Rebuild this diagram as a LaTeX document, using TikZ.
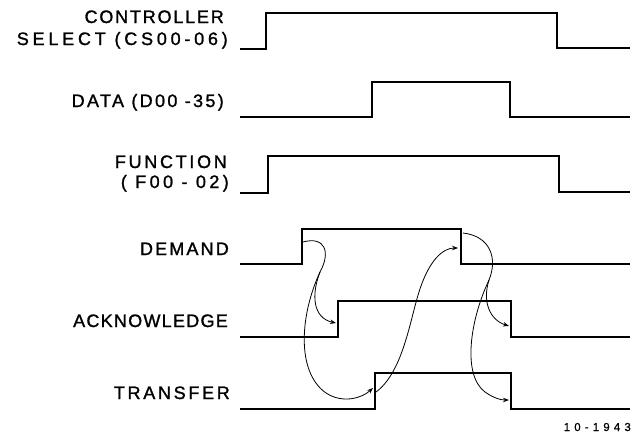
\documentclass[tikz,border=0pt]{standalone}
\usepackage{fontspec}
\newfontfamily\lblfont[FakeBold=1.3]{Liberation Sans}
\newfontfamily\tagfont[LetterSpace=36,FakeBold=0.8]{Liberation Sans}
\usetikzlibrary{arrows.meta}
\begin{document}
\begin{tikzpicture}[x=1pt,y=-1pt,
  wave/.style={line width=2.6pt,line join=miter,line cap=butt},
  cause/.style={line width=0.8pt,-{Stealth[length=6pt,width=4.5pt]}},
  causeplain/.style={line width=0.8pt},
  lbl/.style={anchor=base east,inner sep=0pt,font=\lblfont\fontsize{18}{18}\selectfont\addfontfeature{LetterSpace=#1}},
  tag/.style={anchor=base east,inner sep=0pt,font=\tagfont\fontsize{11.5}{11.5}\selectfont}]
\useasboundingbox (0,0) rectangle (634,442);
% labels
\node[lbl=10] (lcs1) at (224,23) {CONTROLLER};
\node[lbl=21] (lcs2) at (228,45) {SELECT (CS00-06)};
\node[lbl=13] (ldata) at (224,107) {DATA (D00 -35)};
\node[lbl=15] (lfn1) at (227,168) {FUNCTION};
\node[lbl=19] (lfn2) at (229,188) {( F00 - 02)};
\node[lbl=12] (ldem) at (229,255) {DEMAND};
\node[lbl=7] (lack) at (228,327) {ACKNOWLEDGE};
\node[lbl=15] (ltr) at (230,399) {TRANSFER};
\node[tag] (lnum) at (631,431) {10-1943};
% waveforms
\draw[wave] (240,49) -- (266,49) -- (266,13) -- (557,13) -- (557,48) -- (630,48);
\draw[wave] (240,117) -- (372,117) -- (372,82) -- (510,82) -- (510,117) -- (630,117);
\draw[wave] (240,193) -- (268,193) -- (268,156) -- (559,156) -- (559,192) -- (630,192);
\draw[wave] (240,264) -- (302,264) -- (302,229) -- (461,229) -- (461,264) -- (630,264);
\draw[wave] (240,337) -- (338,337) -- (338,301) -- (511,301) -- (511,337) -- (630,337);
\draw[wave] (240,409) -- (375,409) -- (375,373) -- (511,373) -- (511,409) -- (630,409);
% edge points
\coordinate (demup) at (303,242);
\coordinate (demsplit) at (320,272);
\coordinate (ackup) at (336,323);
\coordinate (trup) at (373,388);
\coordinate (trupout) at (376,392);
\coordinate (demdn) at (458,248);
\coordinate (demdnout) at (463,233);
\coordinate (dnsplit) at (489,280);
\coordinate (ackdn) at (509,326);
\coordinate (trdn) at (509,400);
% causal connectors
\draw[causeplain] (demup) .. controls (325,236) and (331,252) .. (demsplit);
\draw[cause] (demsplit) .. controls (311,295) and (313,318) .. (ackup);
\draw[cause] (demsplit) .. controls (300,315) and (296,372) .. (326,393) .. controls (343,404) and (362,398) .. (trup);
\draw[cause] (trupout) .. controls (403,372) and (410,320) .. (419,292) .. controls (429,260) and (443,248) .. (demdn);
\draw[causeplain] (demdnout) .. controls (490,236) and (498,258) .. (dnsplit);
\draw[cause] (dnsplit) .. controls (482,302) and (490,320) .. (ackdn);
\draw[cause] (dnsplit) .. controls (470,320) and (462,375) .. (485,392) .. controls (495,399) and (502,400) .. (trdn);
\end{tikzpicture}
\end{document}
